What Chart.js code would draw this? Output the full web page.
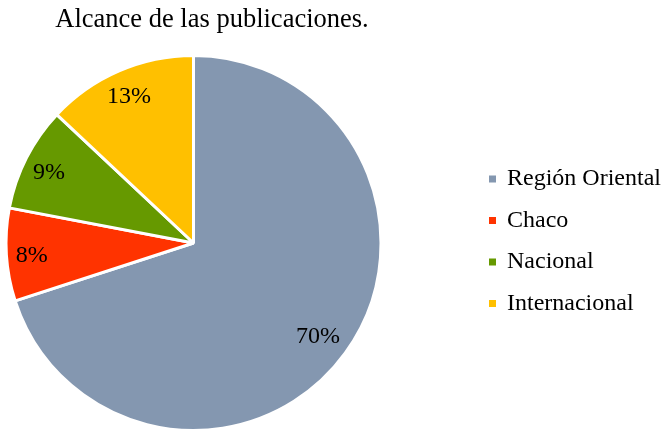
<!DOCTYPE html>
<html>
<head>
<meta charset="utf-8">
<script src="https://cdn.jsdelivr.net/npm/chart.js@4/dist/chart.umd.min.js"></script>
<style>
html,body{margin:0;padding:0;background:#fff;}
#wrap{width:668px;height:432px;}
</style>
</head>
<body>
<div id="wrap"><canvas id="c" width="668" height="432"></canvas></div>
<script>
const chartTitle = "Alcance de las publicaciones.";
const categories = ["Región Oriental", "Chaco", "Nacional", "Internacional"];
const values = [70, 8, 9, 13];
const colors = ["#8497B0", "#FF3300", "#669900", "#FFC000"];
const FONT = "'Liberation Serif', 'Times New Roman', serif";

const overlay = {
  id: 'overlay',
  afterDatasetsDraw(chart) {
    const ctx = chart.ctx;
    const meta = chart.getDatasetMeta(0);
    const data = chart.data.datasets[0].data;
    const total = data.reduce((a, b) => a + b, 0);
    ctx.save();
    ctx.fillStyle = '#000';
    ctx.font = "24px " + FONT;
    ctx.textAlign = 'center';
    ctx.textBaseline = 'middle';
    meta.data.forEach((arc, i) => {
      const p = arc.getProps(['x','y','startAngle','endAngle','outerRadius'], true);
      const mid = (p.startAngle + p.endAngle) / 2;
      const share = data[i] / total;
      const r = p.outerRadius * (share > 0.5 ? 0.82 : 0.865);
      const pct = Math.round(share * 100) + '%';
      ctx.fillText(pct, p.x + Math.cos(mid) * r, p.y + Math.sin(mid) * r + 3);
    });
    // title
    ctx.font = "26.5px " + FONT;
    ctx.fillText(chartTitle, 212, 20);
    // legend
    ctx.font = "24px " + FONT;
    ctx.textAlign = 'left';
    const lx = 489, ly0 = 179, step = 41.5;
    chart.data.labels.forEach((lab, i) => {
      const y = ly0 + i * step;
      ctx.fillStyle = chart.data.datasets[0].backgroundColor[i];
      ctx.fillRect(lx, y - 3.5, 7, 7);
      ctx.fillStyle = '#000';
      ctx.fillText(lab, lx + 18, y);
    });
    ctx.restore();
  }
};

new Chart(document.getElementById('c'), {
  type: 'pie',
  data: {
    labels: categories,
    datasets: [{
      data: values,
      backgroundColor: colors,
      borderColor: '#ffffff',
      borderWidth: 3
    }]
  },
  options: {
    responsive: false,
    animation: false,
    layout: { padding: { top: 54, left: 4, right: 285, bottom: 0 } },
    plugins: {
      legend: { display: false },
      title: { display: false },
      tooltip: { enabled: false }
    }
  },
  plugins: [overlay]
});
</script>
</body>
</html>
